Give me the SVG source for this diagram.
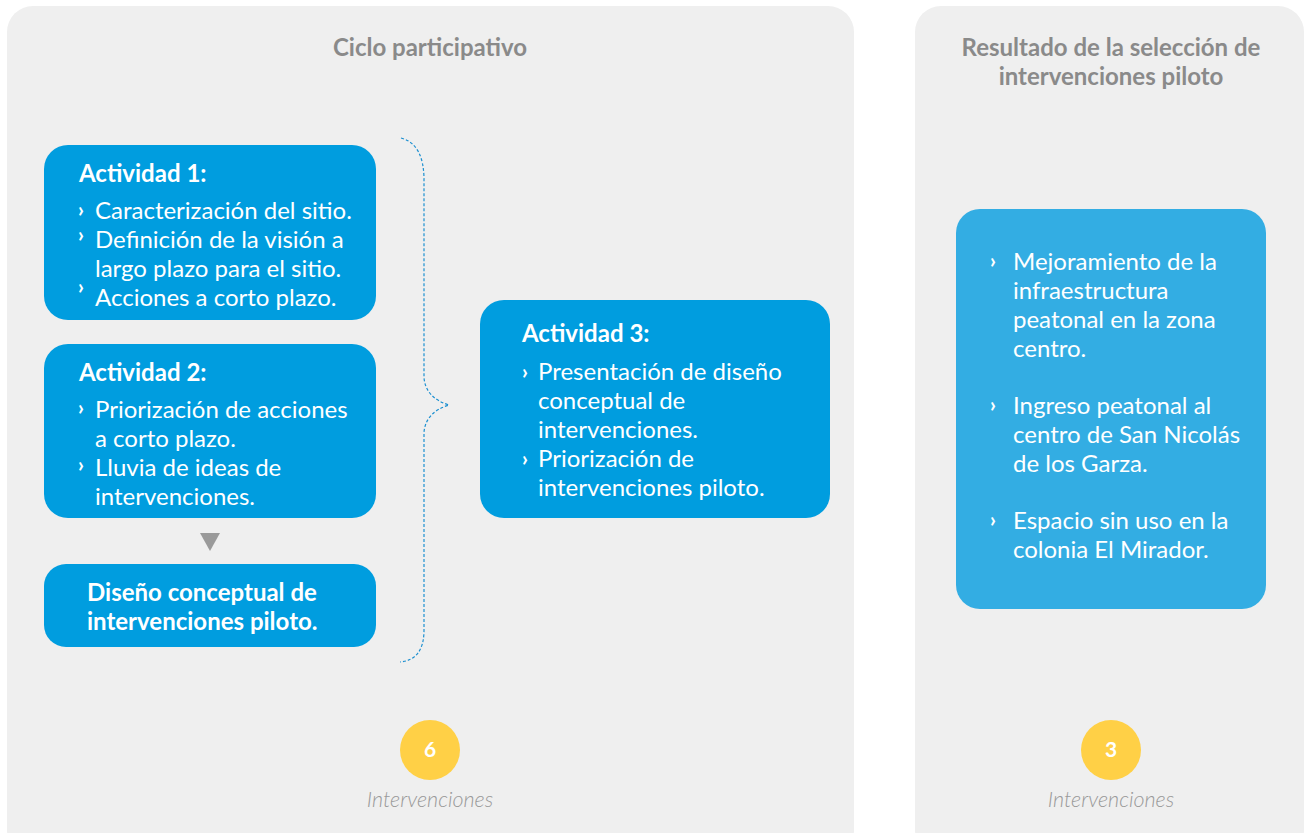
<svg xmlns="http://www.w3.org/2000/svg" width="1306" height="833" viewBox="0 0 1306 833">
<style>
.panel{fill:#efefef}
.box{fill:#009ddf}
.rbox{fill:#33ade3}
.title{font-family:Lato,"Liberation Sans",sans-serif;font-weight:700;font-size:24px;fill:#8a8a8a;text-anchor:middle}
.h{font-family:Lato,"Liberation Sans",sans-serif;font-weight:700;font-size:24px;fill:#fff}
.t{font-family:Lato,"Liberation Sans",sans-serif;font-size:24px;fill:#fff}
.c{font-family:Lato,"Liberation Sans",sans-serif;font-weight:900;font-size:20px;fill:#fff}
.num{font-family:Lato,"Liberation Sans",sans-serif;font-weight:700;font-size:21px;fill:#fff;text-anchor:middle}
.lab{font-family:Lato,"Liberation Sans",sans-serif;font-style:italic;font-weight:300;font-size:21.5px;fill:#9a9a9a;text-anchor:middle}
.circ{fill:#ffd046}
</style>
<rect width="1306" height="833" fill="#fff"/>
<g id="panel-left">
<rect class="panel" x="7" y="6" width="847" height="850" rx="26"/>
<text class="title" x="430" y="56">Ciclo participativo</text>
</g>
<g id="panel-right">
<rect class="panel" x="915" y="6" width="389" height="850" rx="26"/>
<text class="title" x="1111" y="56">Resultado de la selección de</text>
<text class="title" x="1111" y="85">intervenciones piloto</text>
</g>
<g id="connectors">
<path d="M401,138 Q424,144 424,180 L424,378 Q426,398 449,405 Q426,412 424,432 L424,630 Q424,660 400,662" fill="none" stroke="#1b8fd0" stroke-width="1.2" stroke-dasharray="3,2"/>
<polygon points="200,533 220,533 210,551" fill="#9a9a9a"/>
</g>
<g id="act1">
<rect class="box" x="44" y="145" width="332" height="175" rx="24"/>
<text class="h" x="79" y="182">Actividad 1:</text>
<text class="c" x="78" y="217">›</text>
<text class="t" x="95" y="219">Caracterización del sitio.</text>
<text class="c" x="78" y="242">›</text>
<text class="t" x="95" y="248">Definición de la visión a</text>
<text class="t" x="95" y="277">largo plazo para el sitio.</text>
<text class="c" x="78" y="294">›</text>
<text class="t" x="95" y="306">Acciones a corto plazo.</text>
</g>
<g id="act2">
<rect class="box" x="44" y="344" width="332" height="174" rx="24"/>
<text class="h" x="79" y="381">Actividad 2:</text>
<text class="c" x="78" y="415">›</text>
<text class="t" x="95" y="418">Priorización de acciones</text>
<text class="t" x="95" y="447">a corto plazo.</text>
<text class="c" x="78" y="472">›</text>
<text class="t" x="95" y="476">Lluvia de ideas de</text>
<text class="t" x="95" y="505">intervenciones.</text>
</g>
<g id="diseno">
<rect class="box" x="44" y="564" width="332" height="83" rx="22"/>
<text class="h" x="87" y="601">Diseño conceptual de</text>
<text class="h" x="87" y="630">intervenciones piloto.</text>
</g>
<g id="act3">
<rect class="box" x="480" y="300" width="350" height="218" rx="24"/>
<text class="h" x="522" y="342">Actividad 3:</text>
<text class="c" x="522" y="379">›</text>
<text class="t" x="538" y="380">Presentación de diseño</text>
<text class="t" x="538" y="409">conceptual de</text>
<text class="t" x="538" y="438">intervenciones.</text>
<text class="c" x="522" y="466">›</text>
<text class="t" x="538" y="467">Priorización de</text>
<text class="t" x="538" y="496">intervenciones piloto.</text>
</g>
<g id="resultado">
<rect class="rbox" x="956" y="209" width="310" height="400" rx="24"/>
<text class="c" x="990" y="268">›</text>
<text class="t" x="1013" y="270">Mejoramiento de la</text>
<text class="t" x="1013" y="299">infraestructura</text>
<text class="t" x="1013" y="328">peatonal en la zona</text>
<text class="t" x="1013" y="357">centro.</text>
<text class="c" x="990" y="412">›</text>
<text class="t" x="1013" y="414">Ingreso peatonal al</text>
<text class="t" x="1013" y="443">centro de San Nicolás</text>
<text class="t" x="1013" y="472">de los Garza.</text>
<text class="c" x="990" y="527">›</text>
<text class="t" x="1013" y="529">Espacio sin uso en la</text>
<text class="t" x="1013" y="558">colonia El Mirador.</text>
</g>
<g id="count-left">
<circle class="circ" cx="430" cy="750" r="30"/>
<text class="num" x="430" y="757">6</text>
<text class="lab" x="430" y="807">Intervenciones</text>
</g>
<g id="count-right">
<circle class="circ" cx="1111" cy="750" r="30"/>
<text class="num" x="1111" y="757">3</text>
<text class="lab" x="1111" y="807">Intervenciones</text>
</g>
</svg>
